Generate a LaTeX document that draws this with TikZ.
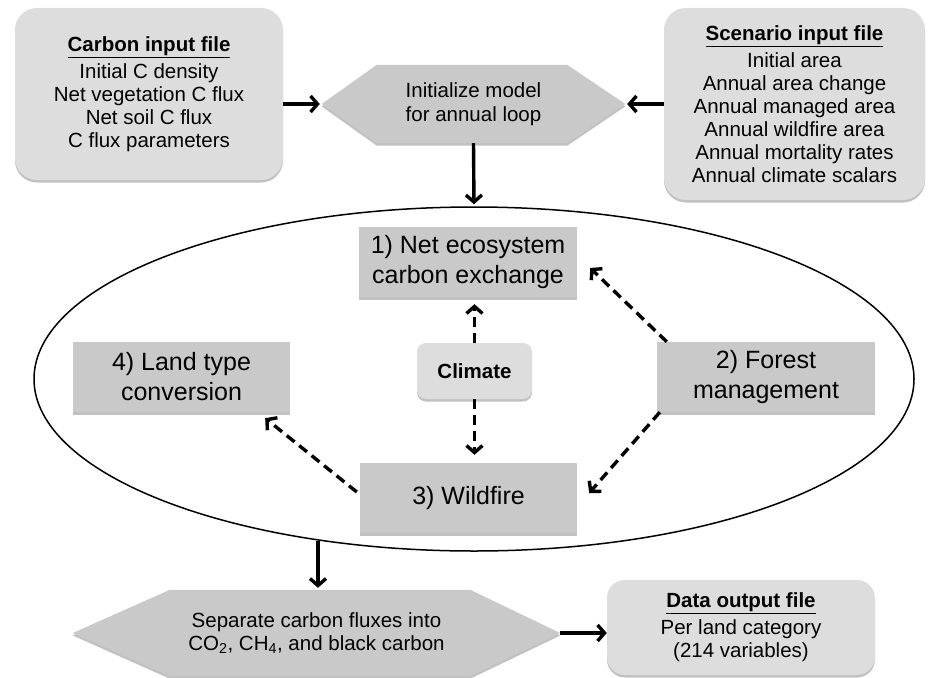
\documentclass[tikz,border=0pt]{standalone}
\usepackage{fontspec}
\setmainfont{Liberation Sans}
\usetikzlibrary{arrows.meta,shapes.geometric,shadows,calc,backgrounds}
\definecolor{boxdark}{RGB}{201,201,201}
\definecolor{boxlight}{RGB}{221,221,221}
\tikzset{
  shad/.style={drop shadow={shadow xshift=0pt,shadow yshift=-2.5pt,opacity=.35,fill=black!70}},
  filebox/.style={fill=boxlight, rounded corners=22pt, align=center, inner sep=0pt,
    font=\fontsize{20.5}{23}\selectfont, shad},
  procbox/.style={fill=boxdark, align=center, inner sep=0pt, minimum width=218pt,
    minimum height=70pt, font=\fontsize{25}{30}\selectfont, shad},
  hexnode/.style={align=center, inner sep=0pt, font=\fontsize{20.5}{23.5}\selectfont},
  hexfill/.style={fill=boxdark, shad},
  arr/.style={line width=3.4pt, -{Straight Barb[length=7pt,width=16pt]}},
  darr/.style={arr, dash pattern=on 10pt off 6pt},
}
\newcommand{\ttl}[1]{\textbf{\underline{#1}}}
\begin{document}
\begin{tikzpicture}[x=1pt,y=-1pt]
\useasboundingbox (0,0) rectangle (933,677);

% file boxes
\node[filebox, minimum width=268pt, minimum height=172pt] (carbon) at (149,94)
  {\ttl{Carbon input file}\\[4pt]Initial C density\\Net vegetation C flux\\Net soil C flux\\C flux parameters};
\node[filebox, minimum width=261pt, minimum height=192pt] (scen) at (794.5,104)
  {\ttl{Scenario input file}\\[4pt]Initial area\\Annual area change\\Annual managed area\\Annual wildfire area\\Annual mortality rates\\Annual climate scalars};
\node[filebox, rounded corners=18pt, minimum width=268pt, minimum height=95pt] (data) at (741,627.5)
  {\ttl{Data output file}\\[4pt]Per land category\\(214 variables)};

% hexagon nodes
\node[hexnode, minimum width=303pt, minimum height=78pt] (init) at (473.5,104)
  {Initialize model\\for annual loop};
\node[hexnode, minimum width=487pt, minimum height=86pt] (sep) at (316.5,633)
  {Separate carbon fluxes into\\CO\textsubscript{2}, CH\textsubscript{4}, and black carbon};
\begin{scope}[on background layer]
  \path[hexfill] (init.west) -- ($(init.north west)+(55,0)$) -- ($(init.north east)+(-58,0)$)
    -- (init.east) -- ($(init.south east)+(-58,0)$) -- ($(init.south west)+(55,0)$) -- cycle;
  \path[hexfill] (sep.west) -- ($(sep.north west)+(97,0)$) -- ($(sep.north east)+(-90,0)$)
    -- (sep.east) -- ($(sep.south east)+(-90,0)$) -- ($(sep.south west)+(97,0)$) -- cycle;
\end{scope}

% annual loop ellipse
\node[ellipse, draw, line width=1.5pt, inner sep=0pt, minimum width=880pt, minimum height=344pt] (loop) at (474,379) {};

% process boxes
\node[procbox] (box1) at (468,262) {1) Net ecosystem\\carbon exchange};
\node[procbox, minimum width=217pt] (box4) at (181.5,377) {4) Land type\\conversion};
\node[procbox] (box2) at (766,377) {2) Forest\\management};
\node[procbox, minimum width=217pt] (wild) at (468.5,498) {3) Wildfire};
\node[fill=boxlight, rounded corners=9pt, inner sep=0pt, minimum width=115pt, minimum height=56pt,
  font=\fontsize{20.5}{24}\selectfont\bfseries, shad] (clim) at (474.5,371) {Climate};

% solid arrows
\draw[arr, shorten >=2pt] (init.west -| carbon.east) -- (init.west);
\draw[arr, shorten >=2pt] (init.east -| scen.west) -- (init.east);
\draw[arr, shorten >=2pt] (init.south) -- (loop.north);
\draw[arr, shorten >=2pt] (loop.226.6) -- (loop.226.6 |- sep.north);
\draw[arr] (sep.east) -- (sep.east -| data.west);

% dashed arrows
\draw[darr, shorten >=7pt] (clim.north) -- (clim.north |- box1.south);
\draw[darr, shorten >=8pt] (clim.south) -- (clim.south |- wild.north);
\draw[darr] ($(box2.north west)+(10,0)$) -- ($(box1.east)+(13,6)$);
\draw[darr] ($(box2.south west)+(3,0)$) -- ($(wild.east)+(12,-5)$);
\draw[darr] ($(wild.west)+(-3,-6)$) -- ($(box4.south east)+(-25,6)$);
\end{tikzpicture}
\end{document}
